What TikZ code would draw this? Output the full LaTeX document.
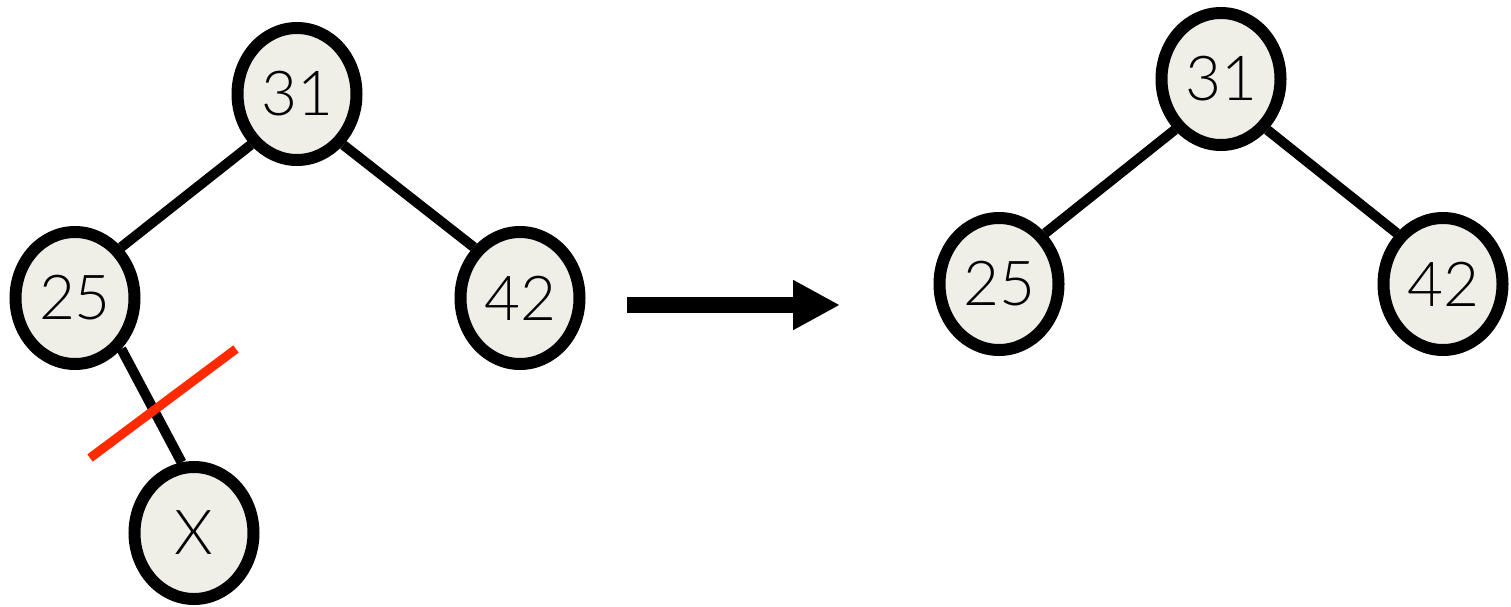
\documentclass[tikz,border=0pt]{standalone}
\usepackage{fontspec}
\setmainfont{Lato}[UprightFont={* Light}]
\usepackage{xcolor}
\usepackage{tikz}
\usetikzlibrary{arrows.meta,positioning,shapes.geometric}
\definecolor{keyfill}{HTML}{EFEFE7}
\definecolor{cutred}{HTML}{FF2A00}

\begin{document}
\begin{tikzpicture}[x=0.5pt, y=-0.5pt,
  key/.style={ellipse, draw=black, line width=6pt, fill=keyfill, inner sep=0pt,
              minimum width=59.5pt, minimum height=66pt, font=\fontsize{31}{31}\selectfont},
  link/.style={line width=5pt, black},
  cut/.style={line width=4.5pt, cutred},
  arr/.style={-{Triangle[length=23.5pt, width=23.5pt]}, line width=8pt, black}]
\useasboundingbox (0,0) rectangle (1511,606);
% tree before the delete
\node[key] (l31) at (297,94) {31};
\node[key] (l25) at (75,298) {25};
\node[key] (l42) at (520,298) {42};
\node[key] (lx) at (194,533) {X};
\draw[link] (l31.south west) -- (l25.north east);
\draw[link] (l31.south east) -- (l42.north west);
\draw[link] (l25.south east) -- (lx.100);
\coordinate (cuta) at (90,458);
\coordinate (cutb) at (236,349);
\draw[cut] (cuta) -- (cutb);
% step arrow
\coordinate (arra) at (627,305);
\coordinate (arrb) at (840,305);
\draw[arr] (arra) -- (arrb);
% tree after the delete
\node[key] (r31) at (1221,79) {31};
\node[key] (r25) at (999,284) {25};
\node[key] (r42) at (1443,284) {42};
\draw[link] (r31.south west) -- (r25.north east);
\draw[link] (r31.south east) -- (r42.north west);
\end{tikzpicture}
\end{document}
